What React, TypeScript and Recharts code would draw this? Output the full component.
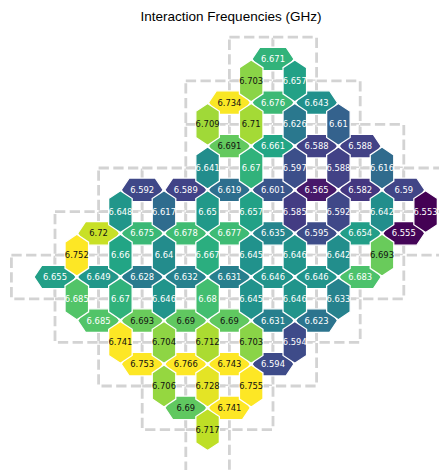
import { ScatterChart, XAxis, YAxis, ReferenceArea } from 'recharts';

// qubit grid: for each row, first and last occupied column
const QUBIT_ROWS = [0, 1, 2, 3, 4, 5, 6, 7, 8, 9];
const QUBIT_FIRST_COL = [5, 4, 4, 2, 1, 0, 1, 2, 3, 4];
const QUBIT_LAST_COL = [6, 7, 8, 9, 9, 8, 7, 6, 5, 4];

// horizontal couplers (same row, col -> col + 1)
const H_ROWS = [0, 1, 2, 3, 4, 5, 6, 7, 8];
const H_FIRST_COL = [5, 4, 4, 2, 1, 0, 1, 2, 3];
const H_VALUES = [
  [6.671],
  [6.734, 6.676, 6.643],
  [6.691, 6.661, 6.588, 6.588],
  [6.592, 6.589, 6.619, 6.601, 6.565, 6.582, 6.59],
  [6.72, 6.675, 6.678, 6.677, 6.635, 6.595, 6.654, 6.555],
  [6.655, 6.649, 6.628, 6.632, 6.631, 6.646, 6.646, 6.683],
  [6.685, 6.693, 6.69, 6.69, 6.631, 6.623],
  [6.753, 6.766, 6.743, 6.594],
  [6.69, 6.741],
];

// vertical couplers (row -> row + 1, same col)
const V_ROWS = [0, 1, 2, 3, 4, 5, 6, 7, 8];
const V_FIRST_COL = [5, 4, 4, 2, 1, 1, 2, 3, 4];
const V_VALUES = [
  [6.703, 6.657],
  [6.709, 6.71, 6.626, 6.61],
  [6.641, 6.67, 6.597, 6.588, 6.616],
  [6.648, 6.617, 6.65, 6.657, 6.585, 6.592, 6.642, 6.553],
  [6.752, 6.66, 6.64, 6.667, 6.645, 6.646, 6.642, 6.693],
  [6.685, 6.67, 6.646, 6.68, 6.645, 6.646, 6.633],
  [6.741, 6.704, 6.712, 6.703, 6.594],
  [6.706, 6.728, 6.755],
  [6.717],
];

const COLOR_MIN = 6.553;
const COLOR_MAX = 6.735;

const W = 439;
const H = 470;
const COL0_PX = 33.2;
const ROW0_PX = 59;
const UNIT_PX = 43.6;

const HALF_WIDTH = 0.27;
const SETBACK = 0.2;
const MARGIN = 0.02;

const VIRIDIS = [
  '#440154', '#482475', '#414487', '#355f8d', '#2a788e', '#21918c',
  '#22a884', '#44bf70', '#7ad151', '#bddf26', '#fde725',
];

function hexToRgb(h: string) {
  return [1, 3, 5].map((i) => parseInt(h.slice(i, i + 2), 16));
}

function colorT(v: number) {
  return Math.max(0, Math.min(1, (v - COLOR_MIN) / (COLOR_MAX - COLOR_MIN)));
}

function viridis(v: number) {
  const t = colorT(v) * (VIRIDIS.length - 1);
  const i = Math.min(Math.floor(t), VIRIDIS.length - 2);
  const f = t - i;
  const a = hexToRgb(VIRIDIS[i]);
  const b = hexToRgb(VIRIDIS[i + 1]);
  const c = a.map((x, k) => Math.round(x + (b[k] - x) * f));
  return `rgb(${c[0]},${c[1]},${c[2]})`;
}

interface Coupler {
  row: number;
  col: number;
  value: number;
  vertical: boolean;
}

const couplers: Coupler[] = [];
H_ROWS.forEach((row, i) => {
  H_VALUES[i].forEach((value, k) => {
    couplers.push({ row, col: H_FIRST_COL[i] + k, value, vertical: false });
  });
});
V_ROWS.forEach((row, i) => {
  V_VALUES[i].forEach((value, k) => {
    couplers.push({ row, col: V_FIRST_COL[i] + k, value, vertical: true });
  });
});

const qubits: { row: number; col: number }[] = [];
QUBIT_ROWS.forEach((row, i) => {
  for (let col = QUBIT_FIRST_COL[i]; col <= QUBIT_LAST_COL[i]; col++) {
    qubits.push({ row, col });
  }
});

function CouplerShape(props: any) {
  const { x, y, width, height, c } = props;
  const fill = viridis(c.value);
  const textColor = colorT(c.value) > 0.745 ? '#111' : '#fff';
  let pts: number[][];
  if (!c.vertical) {
    const m = MARGIN * width;
    const d = SETBACK * width;
    const cy = y + height / 2;
    pts = [
      [x + m, cy], [x + d, y], [x + width - d, y],
      [x + width - m, cy], [x + width - d, y + height], [x + d, y + height],
    ];
  } else {
    const m = MARGIN * height;
    const d = SETBACK * height;
    const cx = x + width / 2;
    pts = [
      [cx, y + m], [x + width, y + d], [x + width, y + height - d],
      [cx, y + height - m], [x, y + height - d], [x, y + d],
    ];
  }
  return (
    <g>
      <polygon
        points={pts.map((p) => p.join(',')).join(' ')}
        fill={fill}
        stroke="#fff"
        strokeWidth={1.3}
      />
      <text
        x={x + width / 2}
        y={y + height / 2}
        textAnchor="middle"
        dominantBaseline="central"
        fontSize={8.4}
        fontFamily="DejaVu Sans, sans-serif"
        fill={textColor}
      >
        {String(c.value)}
      </text>
    </g>
  );
}

export default function App() {
  const xDomain = [-COL0_PX / UNIT_PX, (W - COL0_PX) / UNIT_PX];
  const yDomain = [-ROW0_PX / UNIT_PX, (H - ROW0_PX) / UNIT_PX];

  return (
    <div style={{ position: 'absolute', left: 0, top: 0, width: W, height: H, background: '#fff' }}>
      <ScatterChart width={W} height={H} margin={{ top: 0, right: 0, bottom: 0, left: 0 }}>
        <XAxis type="number" dataKey="x" domain={xDomain} allowDataOverflow hide />
        <YAxis type="number" dataKey="y" domain={yDomain} allowDataOverflow reversed hide />
        {qubits.map((q) => (
          <ReferenceArea
            key={`q-${q.row}-${q.col}`}
            x1={q.col - 0.5}
            x2={q.col + 0.5}
            y1={q.row - 0.5}
            y2={q.row + 0.5}
            fill="#fff"
            fillOpacity={1}
            stroke="#d3d3d3"
            strokeWidth={2.8}
            strokeDasharray="10.3 4.4"
            ifOverflow="visible"
          />
        ))}
        {couplers.map((c) => (
          <ReferenceArea
            key={`c-${c.vertical ? 'v' : 'h'}-${c.row}-${c.col}`}
            x1={c.vertical ? c.col - HALF_WIDTH : c.col}
            x2={c.vertical ? c.col + HALF_WIDTH : c.col + 1}
            y1={c.vertical ? c.row : c.row - HALF_WIDTH}
            y2={c.vertical ? c.row + 1 : c.row + HALF_WIDTH}
            ifOverflow="visible"
            shape={(p: any) => <CouplerShape {...p} c={c} />}
          />
        ))}
      </ScatterChart>
      <div
        style={{
          position: 'absolute',
          left: 0,
          top: 9,
          width: 462,
          textAlign: 'center',
          fontFamily: 'Liberation Sans, Arial, sans-serif',
          fontSize: 13.5,
          color: '#000',
          lineHeight: '16px',
        }}
      >
        Interaction Frequencies (GHz)
      </div>
    </div>
  );
}
